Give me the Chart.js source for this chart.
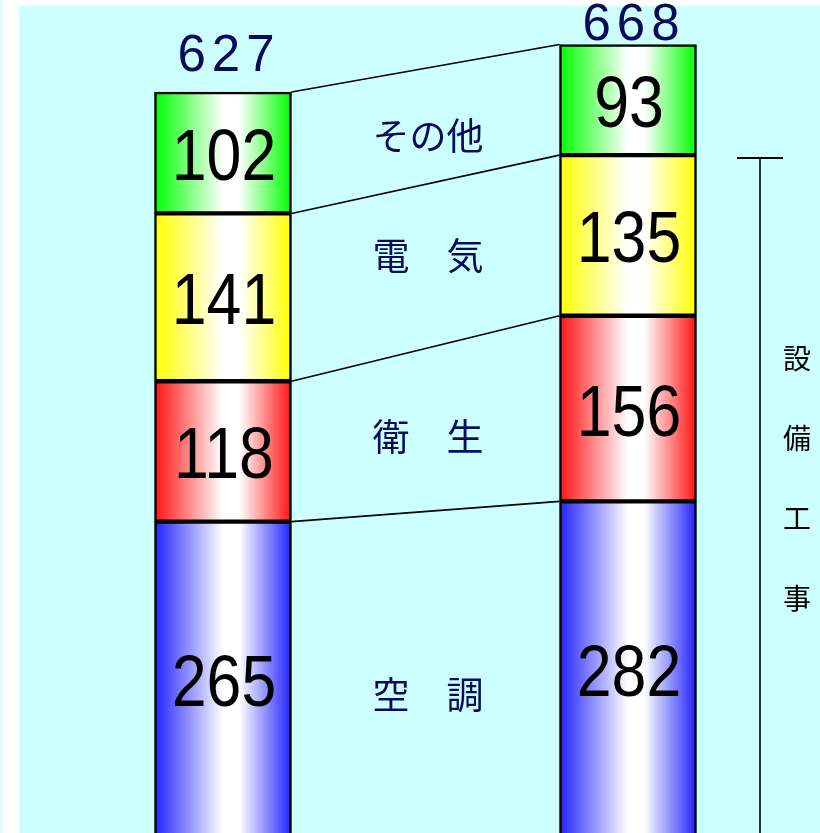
<!DOCTYPE html>
<html><head><meta charset="utf-8">
<script src="https://cdn.jsdelivr.net/npm/chart.js@4/dist/chart.umd.min.js"></script>
<style>
html,body{margin:0;padding:0;overflow:hidden;background:#fff;width:820px;height:833px}
canvas{display:block}
</style></head>
<body><canvas id="c" width="820" height="840"></canvas>
<script>
// ---- data ----
const categories = ['棒1', '棒2'];
const seriesNames = ['空調', '衛生', '電気', 'その他'];
const airCon = [265, 282];
const sanitary = [118, 156];
const electric = [141, 135];
const other = [102, 93];
const totals = [627, 668];
const middleLabels = ['空　調', '衛　生', '電　気', 'その他'];
const sideLabel = ['設', '備', '工', '事'];

const colors = ['#2424ff', '#ff1414', '#ffff00', '#00ff00'];
const seriesValues = [airCon, sanitary, electric, other];

function grad(ctx, chart, col) {
  const xs = chart.scales && chart.scales.x;
  if (!xs || !chart.chartArea) return col;
  const cx = xs.getPixelForValue(ctx.dataIndex);
  const g = chart.ctx.createLinearGradient(cx - 68, 0, cx + 68, 0);
  g.addColorStop(0, col);
  g.addColorStop(0.5, '#ffffff');
  g.addColorStop(0.62, '#ffffff');
  g.addColorStop(1, col);
  return g;
}

const datasets = seriesValues.map((vals, i) => ({
  label: seriesNames[i],
  data: vals,
  backgroundColor: (ctx) => grad(ctx, ctx.chart, colors[i]),
  borderColor: '#000',
  borderWidth: 2.5,
  borderSkipped: false,
  barThickness: 137,
  clip: false
}));

const panelPlugin = {
  id: 'panel',
  beforeDraw(chart) {
    const c = chart.ctx;
    c.save();
    c.fillStyle = '#ffffff';
    c.fillRect(0, 0, chart.width, chart.height);
    c.fillStyle = '#ddffff';
    c.fillRect(0, 0, 3, chart.height);
    c.fillStyle = '#ccffff';
    c.fillRect(19, 6, chart.width - 19, chart.height - 6);
    c.restore();
  }
};

const decoPlugin = {
  id: 'deco',
  afterDatasetsDraw(chart) {
    const c = chart.ctx;
    c.save();
    const metas = chart.data.datasets.map((d, i) => chart.getDatasetMeta(i));
    // connecting lines
    c.strokeStyle = '#000';
    c.lineWidth = 1.6;
    metas.forEach(m => {
      const a = m.data[0], b = m.data[1];
      c.beginPath();
      c.moveTo(a.x + a.width / 2, a.y);
      c.lineTo(b.x - b.width / 2, b.y);
      c.stroke();
    });
    // value labels
    c.fillStyle = '#000';
    c.textAlign = 'center';
    c.textBaseline = 'alphabetic';
    metas.forEach((m, i) => {
      m.data.forEach((el, j) => {
        const mid = (el.y + el.base) / 2;
        c.save();
        c.translate(el.x + 1, mid + 27);
        c.scale(0.87, 1);
        c.font = '72px "Liberation Sans", Arial, sans-serif';
        c.fillText(String(seriesValues[i][j]), 0, 0);
        c.restore();
      });
    });
    // totals
    const top = metas[metas.length - 1];
    c.fillStyle = '#0a0a5c';
    c.font = '51px "Liberation Sans", Arial, sans-serif';
    c.letterSpacing = '6px';
    top.data.forEach((el, j) => {
      const y = Math.max(el.y - 21, 40);
      c.fillText(String(totals[j]), el.x + 6, y);
    });
    c.letterSpacing = '0px';
    // middle labels
    const midY = [695, 437, 256, 136];
    c.font = '37px "Noto Sans CJK JP", sans-serif';
    c.textBaseline = 'middle';
    middleLabels.forEach((t, i) => c.fillText(t, 428, midY[i]));
    // bracket
    c.strokeStyle = '#000';
    c.lineWidth = 2;
    c.beginPath();
    c.moveTo(737, 158); c.lineTo(783, 158);
    c.stroke();
    c.lineWidth = 1.6;
    c.beginPath();
    c.moveTo(760, 157); c.lineTo(760, chart.height);
    c.stroke();
    // side label
    c.fillStyle = '#000';
    c.font = '28px "Noto Sans CJK JP", sans-serif';
    sideLabel.forEach((t, i) => c.fillText(t, 797, 358 + i * 80));
    c.restore();
  }
};

new Chart(document.getElementById('c'), {
  type: 'bar',
  data: { labels: categories, datasets },
  options: {
    responsive: false,
    animation: false,
    layout: { padding: { left: 223, right: 192, top: 4, bottom: 3 } },
    plugins: { legend: { display: false }, tooltip: { enabled: false } },
    scales: {
      x: { display: false, stacked: true, offset: false },
      y: { display: false, stacked: true, min: 0, max: 700 }
    }
  },
  plugins: [panelPlugin, decoPlugin]
});
</script>
</body></html>
